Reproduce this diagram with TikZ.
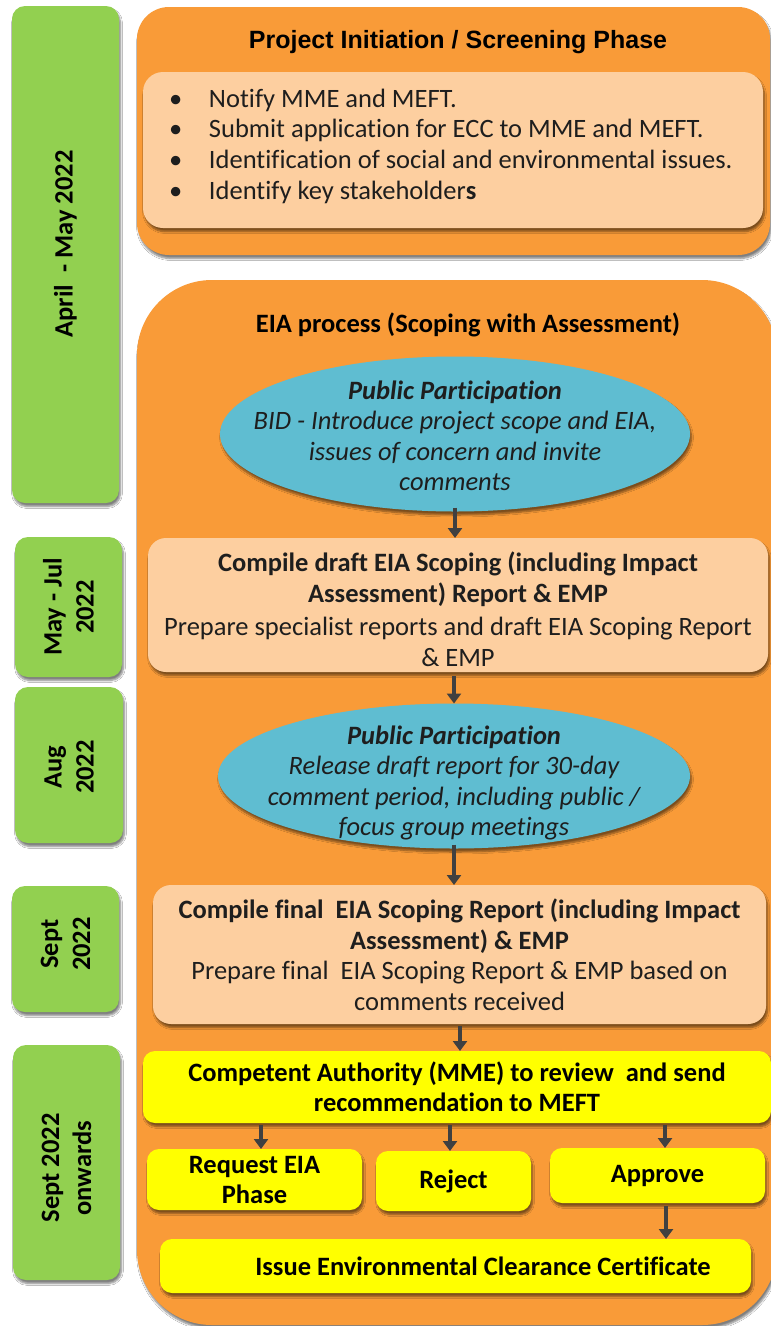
\documentclass[tikz,border=0pt]{standalone}
\usepackage{fontspec}
\setmainfont{Carlito}[Ligatures=NoCommon]
\newfontfamily\headfont{Liberation Sans}
\usetikzlibrary{shapes.geometric,arrows.meta,shadows.blur}

\definecolor{phaseorange}{HTML}{F99B38}
\definecolor{peach}{HTML}{FDCFA0}
\definecolor{monthgreen}{HTML}{92D050}
\definecolor{bubbleblue}{HTML}{5FBDD1}
\definecolor{signyellow}{HTML}{FFFF00}
\definecolor{arrowgray}{HTML}{404040}
\definecolor{bodytext}{HTML}{1E1E1E}

\begin{document}
\begin{tikzpicture}[x=1pt,y=-1pt,
  every node/.style={inner sep=0pt, outer sep=0pt},
  soft/.style={blur shadow={shadow blur steps=6, shadow xshift=1.5pt,
      shadow yshift=-3.5pt, shadow opacity=50}},
  month/.style={fill=monthgreen, rounded corners=13pt, soft},
  monthtext/.style={rotate=90, align=center,
      font=\fontsize{26.5}{32}\selectfont\bfseries},
  panel/.style={fill=phaseorange, soft},
  card/.style={fill=peach, rounded corners=18pt, soft, align=center,
      font=\fontsize{26.5}{30.5}\selectfont, text=bodytext},
  bubble/.style={ellipse, fill=bubbleblue, soft},
  bubbletext/.style={align=center, font=\fontsize{26.5}{30.5}\selectfont\itshape,
      text=bodytext},
  verdict/.style={fill=signyellow, rounded corners=12pt, soft, align=center,
      font=\fontsize{26.5}{30}\selectfont\bfseries},
  flow/.style={draw=arrowgray, line width=4pt,
      -{Triangle[width=14pt,length=10pt]}},
]
\fill[white] (0,0) rectangle (771,1326);
\useasboundingbox (0,0) rectangle (771,1326);

% ---------- timeline column ----------
\node[month, minimum width=107pt, minimum height=497pt] (mA) at (65.5,254.5) {};
\node[monthtext] (mAt) at (65.5,244) {April\ \ - May 2022};
\node[month, minimum width=107pt, minimum height=140pt] (mB) at (68.5,607) {};
\node[monthtext] (mBt) at (mB) {May - Jul\\2022};
\node[month, minimum width=108pt, minimum height=156pt] (mC) at (69,765) {};
\node[monthtext] (mCt) at (69,767) {Aug\\2022};
\node[month, minimum width=107pt, minimum height=126pt] (mD) at (65.5,949) {};
\node[monthtext] (mDt) at (65.5,944) {Sept\\2022};
\node[month, minimum width=107pt, minimum height=235pt] (mE) at (66.5,1162.5) {};
\node[monthtext] (mEt) at (66.5,1168) {Sept 2022\\onwards};

% ---------- screening phase ----------
\node[panel, rounded corners=32pt, minimum width=633pt, minimum height=248pt]
  (screen) at (453.5,131) {};
\node[font=\headfont\fontsize{25}{30}\selectfont\bfseries] (screenT) at (458,42)
  {Project Initiation / Screening Phase};
\node[fill=peach, rounded corners=20pt, soft, minimum width=620pt,
  minimum height=156pt] (tasks) at (453,150) {};
\node[anchor=west, align=left, font=\fontsize{26.5}{30.7}\selectfont, text=bodytext]
  (taskList) at (169,146)
  {\makebox[40pt][l]{•}Notify MME and MEFT.\\
   \makebox[40pt][l]{•}Submit application for ECC to MME and MEFT.\\
   \makebox[40pt][l]{•}Identification of social and environmental issues.\\
   \makebox[40pt][l]{•}Identify key stakeholder\textbf{s}};

% ---------- EIA process ----------
\node[panel, rounded corners=75pt, minimum width=640pt, minimum height=1045pt]
  (eia) at (457,802.5) {};
\node[font=\fontsize{26.5}{30}\selectfont\bfseries] (eiaT) at (468,325)
  {EIA process (Scoping with Assessment)};

\node[bubble, minimum width=470pt, minimum height=155pt] (pp1) at (455,434) {};
\node[bubbletext] (pp1t) at (455,436)
  {\textbf{Public Participation}\\
   BID - Introduce project scope and EIA,\\
   issues of concern and invite\\
   comments};

\node[card, minimum width=620pt, minimum height=134pt] (draft) at (458,605)
  {\rule{0pt}{28pt}\textbf{Compile draft EIA Scoping (including Impact}\\
   \textbf{Assessment) Report \& EMP}\\[3pt]
   Prepare specialist reports and draft EIA Scoping Report\\
   \& EMP};

\node[bubble, minimum width=472pt, minimum height=145pt] (pp2) at (454,776) {};
\node[bubbletext] (pp2t) at (454,783)
  {\textbf{Public Participation}\\
   Release draft report for 30-day\\
   comment period, including public /\\
   focus group meetings};

\node[card, minimum width=613pt, minimum height=139pt] (final) at (459.5,954.5)
  {\textbf{Compile final\ \ EIA Scoping Report (including Impact}\\
   \textbf{Assessment) \& EMP}\\
   Prepare final\ \ EIA Scoping Report \& EMP based on\\
   comments received};

\node[verdict, minimum width=628pt, minimum height=72pt] (ca) at (457,1087)
  {Competent Authority (MME) to review\ \ and send\\recommendation to MEFT};
\node[verdict, minimum width=215pt, minimum height=61pt] (req) at (254.5,1179.5)
  {Request EIA\\Phase};
\node[verdict, minimum width=155pt, minimum height=60pt] (rej) at (453.5,1181)
  {Reject};
\node[verdict, minimum width=215pt, minimum height=55pt] (appr) at (657.5,1175.5)
  {Approve};
\node[verdict, minimum width=591pt, minimum height=54pt] (issue) at (455.5,1266)
  {\hspace*{55pt}Issue Environmental Clearance Certificate};

% ---------- flow arrows ----------
\draw[flow] ([yshift=4pt]pp1.south) -- (pp1.south |- draft.north);
\draw[flow] ([yshift=-4pt]pp2.north |- draft.south) -- (pp2.north);
\draw[flow] ([yshift=4pt]pp2.south) -- (pp2.south |- final.north);
\draw[flow] ([xshift=3pt,yshift=-2pt]ca.north |- final.south) -- ([xshift=3pt]ca.north);
\draw[flow] ([xshift=6.5pt,yshift=-2pt]req.north |- ca.south) -- ([xshift=6.5pt]req.north);
\draw[flow] ([xshift=-3.5pt,yshift=-2pt]rej.north |- ca.south) -- ([xshift=-3.5pt]rej.north);
\draw[flow] ([xshift=7.5pt,yshift=-2pt]appr.north |- ca.south) -- ([xshift=7.5pt]appr.north);
\draw[flow] ([xshift=8.5pt,yshift=-3pt]appr.south) -- ([xshift=8.5pt]appr.south |- issue.north);
\end{tikzpicture}
\end{document}
